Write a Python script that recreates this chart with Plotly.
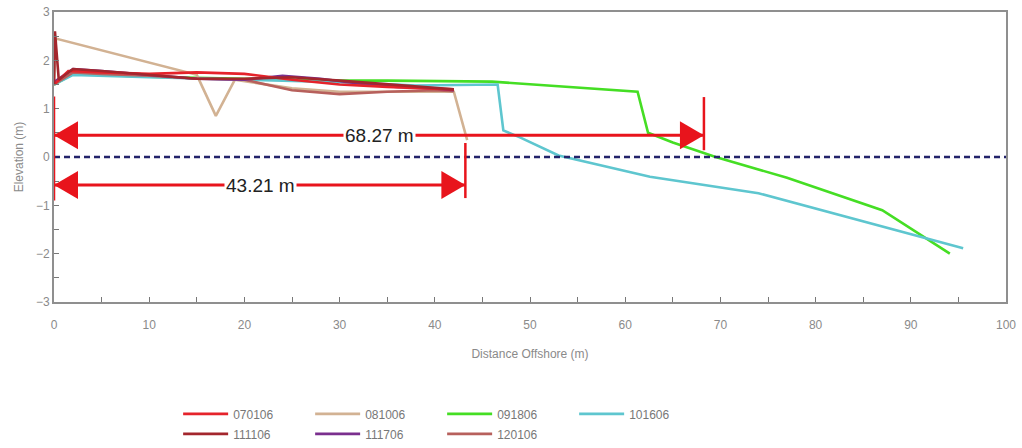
import plotly.graph_objects as go

# Beach profile surveys: distance offshore (m) vs elevation (m)
dates = ["070106", "081006", "091806", "101606", "111106", "111706", "120106"]

x_070106 = [0, 1.5, 5, 10, 15, 20, 25, 30, 35, 40, 42]
y_070106 = [1.5, 1.78, 1.75, 1.72, 1.75, 1.72, 1.6, 1.5, 1.45, 1.42, 1.4]

x_081006 = [0, 0.2, 15, 17, 19, 25, 30, 35, 42, 43.4]
y_081006 = [1.5, 2.45, 1.7, 0.85, 1.6, 1.42, 1.35, 1.35, 1.35, 0.35]

x_091806 = [0, 2, 10, 20, 30, 35, 46, 61.3, 62.4, 65, 69.5, 77, 87, 94.1]
y_091806 = [1.5, 1.72, 1.66, 1.62, 1.58, 1.58, 1.56, 1.35, 0.5, 0.3, 0.0, -0.43, -1.1, -2.0]

x_101606 = [0, 2, 10, 20, 30, 38, 46.6, 47.2, 49, 53, 62.6, 74, 95.5]
y_101606 = [1.5, 1.7, 1.65, 1.6, 1.55, 1.48, 1.5, 0.55, 0.4, 0.03, -0.41, -0.75, -1.89]

x_111106 = [0, 0.1, 0.5, 2, 5, 10, 15, 20, 25, 30, 35, 40, 42]
y_111106 = [1.5, 2.6, 1.6, 1.82, 1.78, 1.7, 1.62, 1.62, 1.65, 1.58, 1.5, 1.42, 1.4]

x_111706 = [0, 2, 5, 10, 15, 20, 24, 28, 32, 36, 40, 42]
y_111706 = [1.55, 1.82, 1.78, 1.7, 1.62, 1.6, 1.68, 1.62, 1.52, 1.45, 1.42, 1.38]

x_120106 = [0, 2, 5, 10, 15, 20, 25, 30, 35, 40, 42]
y_120106 = [1.5, 1.75, 1.72, 1.68, 1.62, 1.6, 1.38, 1.3, 1.35, 1.38, 1.36]

# Measured beach widths (m) and the elevation each dimension arrow sits at
widths = [68.27, 43.21]
width_arrow_y = [0.45, -0.58]
width_label_x = [34.2, 21.7]
width_bar_top = [1.24, 0.29]
width_bar_bottom = [0.14, -0.85]

profiles = {
    "070106": (x_070106, y_070106, "#e5232b", "legend"),
    "081006": (x_081006, y_081006, "#d2b293", "legend"),
    "091806": (x_091806, y_091806, "#45de24", "legend"),
    "101606": (x_101606, y_101606, "#5ec6cf", "legend"),
    "111106": (x_111106, y_111106, "#a3262d", "legend2"),
    "111706": (x_111706, y_111706, "#7a2f8e", "legend2"),
    "120106": (x_120106, y_120106, "#b7605c", "legend2"),
}

draw_order = ["091806", "101606", "081006", "120106", "111706", "070106", "111106"]

fig = go.Figure()
for name in draw_order:
    xs, ys, color, leg = profiles[name]
    fig.add_trace(go.Scatter(
        x=xs, y=ys, mode="lines", name=name,
        line=dict(color=color, width=2.6),
        legend=leg,
        legendrank=dates.index(name),
    ))

red = "#e8141c"
shapes = []
annotations = []

# Mean water level
shapes.append(dict(type="line", xref="paper", x0=0, x1=1, yref="y", y0=0, y1=0,
                   line=dict(color="#23236a", width=2.5, dash="6px,4px")))

for w, ya, lx, bt, bb in zip(widths, width_arrow_y, width_label_x, width_bar_top, width_bar_bottom):
    # dimension line
    shapes.append(dict(type="line", x0=0, x1=w, y0=ya, y1=ya,
                       line=dict(color=red, width=3)))
    # end bar at the measured width
    shapes.append(dict(type="line", x0=w, x1=w, y0=bt, y1=bb,
                       line=dict(color=red, width=2.5)))
    # arrowheads (pixel-sized, anchored at each end)
    shapes.append(dict(type="path", xsizemode="pixel", ysizemode="pixel",
                       xanchor=0, yanchor=ya, path="M 0 0 L 24 14 L 24 -14 Z",
                       fillcolor=red, line=dict(color=red, width=0)))
    shapes.append(dict(type="path", xsizemode="pixel", ysizemode="pixel",
                       xanchor=w, yanchor=ya, path="M 0 0 L -24 14 L -24 -14 Z",
                       fillcolor=red, line=dict(color=red, width=0)))
    annotations.append(dict(x=lx, y=ya, text=f"{w:.2f} m", showarrow=False,
                            bgcolor="white", borderpad=1,
                            font=dict(family="Liberation Sans, Arial", size=19, color="#222222")))

# start bar at the shoreline reference
shapes.append(dict(type="line", x0=0, x1=0, y0=1.25, y1=-0.9,
                   line=dict(color=red, width=2.5)))

axis_font = dict(family="Liberation Sans Narrow, Liberation Sans, Arial", size=12, color="#8a8a8a")
legend_font = dict(family="Liberation Sans Narrow, Liberation Sans, Arial", size=12, color="#777777")

fig.update_layout(
    width=1022, height=448,
    margin=dict(l=54, r=16, t=12, b=146),
    paper_bgcolor="white", plot_bgcolor="white",
    shapes=shapes, annotations=annotations,
    xaxis=dict(
        range=[0, 100], dtick=10, showgrid=False, zeroline=False, automargin=False,
        showline=True, mirror=True, linecolor="#8f8f8f", linewidth=1.8,
        ticks="inside", ticklen=5, tickcolor="#777777", ticklabelstandoff=11,
        minor=dict(dtick=5, ticks="inside", ticklen=5, tickcolor="#777777"),
        tickfont=axis_font,
        title=dict(text="Distance Offshore (m)", font=axis_font, standoff=18),
    ),
    yaxis=dict(
        range=[-3, 3], dtick=1, showgrid=False, zeroline=False, automargin=False,
        showline=True, mirror=True, linecolor="#8f8f8f", linewidth=1.8,
        ticks="inside", ticklen=5, tickcolor="#777777",
        minor=dict(dtick=0.5, ticks="inside", ticklen=5, tickcolor="#777777"),
        tickfont=axis_font,
        title=dict(text="Elevation (m)", font=axis_font, standoff=10),
    ),
    legend=dict(orientation="h", xref="container", yref="container",
                x=0.1743, y=0.1085, xanchor="left", yanchor="top",
                entrywidth=72, entrywidthmode="pixels", itemwidth=45, tracegroupgap=0,
                font=legend_font),
    legend2=dict(orientation="h", xref="container", yref="container",
                 x=0.1743, y=0.064, xanchor="left", yanchor="top",
                 entrywidth=72, entrywidthmode="pixels", itemwidth=45, tracegroupgap=0,
                 font=legend_font),
)

fig.write_html("out.html")
